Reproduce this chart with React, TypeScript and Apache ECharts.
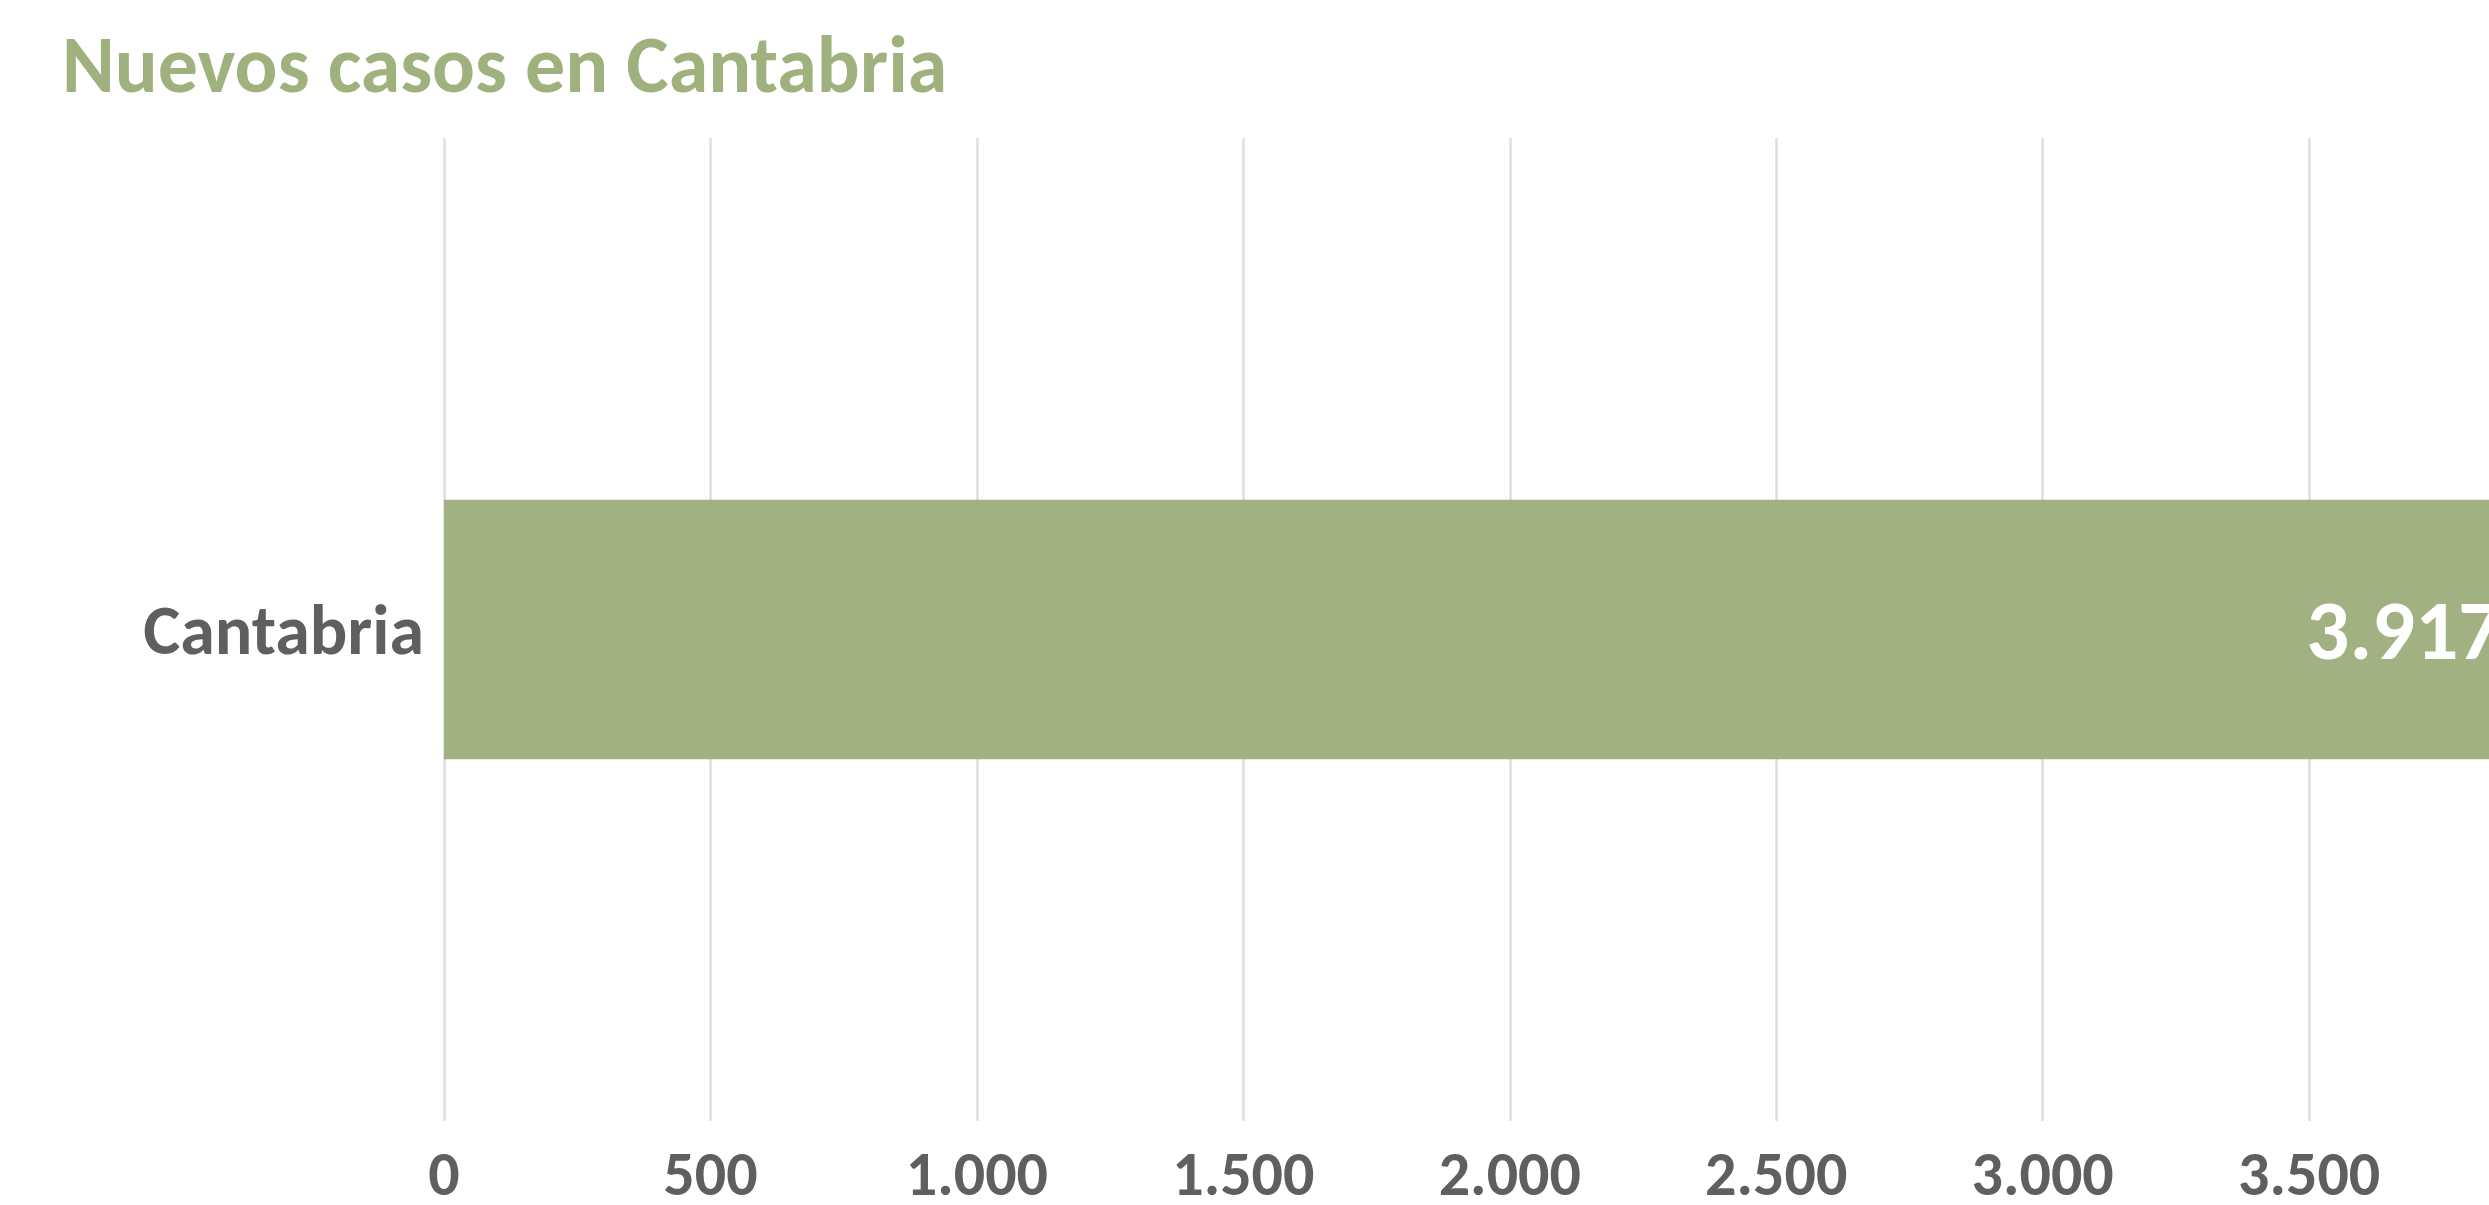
import React, { useEffect, useRef } from "react";
import * as echarts from "echarts";

const categories = ["Cantabria"];
const values = [3917];
const titleText = "Nuevos casos en Cantabria";
const axisMin = 0;
const axisMax = 4500;
const axisStep = 500;

const FONT = "Carlito, Roboto, Lato, sans-serif";
const GREEN = "#A2B181";
const GRAY = "#5F5F5F";

const fmt = (v: number) => String(Math.round(v)).replace(/\B(?=(\d{3})+(?!\d))/g, ".");

export default function App() {
  const ref = useRef<HTMLDivElement>(null);
  useEffect(() => {
    if (!ref.current) return;
    const chart = echarts.init(ref.current, null, { renderer: "svg" });
    chart.setOption({
      animation: false,
      backgroundColor: "#ffffff",
      title: {
        text: titleText,
        left: 62,
        top: 24,
        padding: 0,
        textStyle: { color: "#9FB27E", fontFamily: FONT, fontWeight: "bold", fontSize: 80, lineHeight: 80 },
      },
      grid: { left: 444, top: 138, width: 2398, bottom: 70, containLabel: false },
      xAxis: {
        type: "value",
        min: axisMin,
        max: axisMax,
        interval: axisStep,
        axisLine: { show: false },
        axisTick: { show: false },
        splitLine: { show: true, lineStyle: { color: "#DEDEDE", width: 2.5 } },
        axisLabel: {
          color: GRAY,
          fontFamily: FONT,
          fontWeight: "bold",
          fontSize: 62,
          lineHeight: 30,
          margin: 38,
          formatter: (v: number) => fmt(v),
        },
      },
      yAxis: {
        type: "category",
        data: categories,
        axisLine: { show: false },
        axisTick: { show: false },
        axisLabel: { color: GRAY, fontFamily: FONT, fontWeight: "bold", fontSize: 70, margin: 20 },
      },
      series: [
        {
          type: "bar",
          data: values,
          barCategoryGap: "73.6%",
          itemStyle: { color: GREEN },
          label: {
            show: true,
            position: "insideRight",
            distance: 30,
            color: "#ffffff",
            fontFamily: FONT,
            fontWeight: "bold",
            fontSize: 85,
            formatter: (p: any) => fmt(p.value),
          },
        },
      ],
    });
    return () => chart.dispose();
  }, []);
  return (
    <div
      style={{
        position: "fixed",
        left: 0,
        top: 0,
        width: 2489,
        height: 1205,
        overflow: "hidden",
        background: "#ffffff",
      }}
    >
      <div ref={ref} style={{ width: 3000, height: 1205 }} />
    </div>
  );
}
